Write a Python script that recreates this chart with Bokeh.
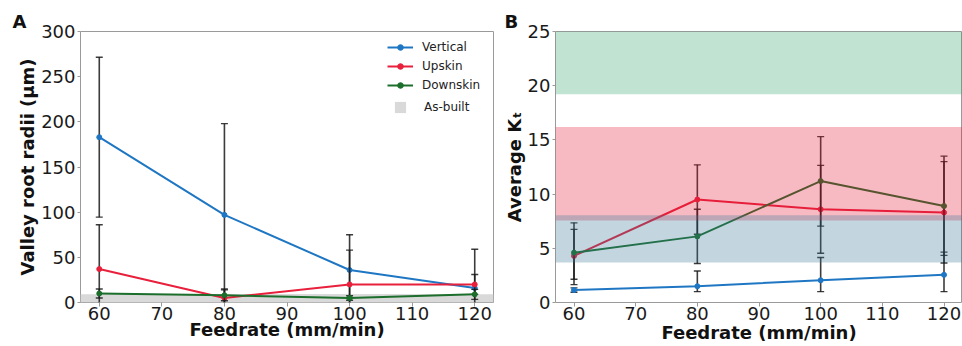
from bokeh.plotting import figure
from bokeh.models import Range1d, BoxAnnotation, Legend, LegendItem, FixedTicker
from bokeh.layouts import row
from bokeh.embed import file_html
from bokeh.resources import INLINE

# ---------------- data ----------------
feedrate = [60, 80, 100, 120]
x_ticks = [60, 70, 80, 90, 100, 110, 120]
x_label = "Feedrate (mm/min)"

# Panel A: valley root radii (um)
radii_vertical = [183, 97, 36, 16]
radii_vertical_err = [88.5, 101, 39, 43]
radii_upskin = [37, 5, 20, 20]
radii_upskin_err = [49, 10, 38, 11]
radii_downskin = [10, 8, 5, 9]
radii_downskin_err = [5, 6, 2.5, 5.5]
as_built_band = [0, 9]
radii_ticks = [0, 50, 100, 150, 200, 250, 300]

# Panel B: average Kt
kt_vertical = [1.15, 1.5, 2.05, 2.55]
kt_vertical_lo = [0.95, 1.0, 1.0, 1.0]
kt_vertical_hi = [1.35, 2.9, 4.15, 4.65]
kt_upskin = [4.3, 9.5, 8.6, 8.3]
kt_upskin_lo = [1.65, 6.3, 4.55, 3.65]
kt_upskin_hi = [7.35, 12.7, 12.65, 13.0]
kt_downskin = [4.6, 6.1, 11.2, 8.9]
kt_downskin_lo = [2.15, 3.6, 7.05, 4.35]
kt_downskin_hi = [6.75, 8.6, 15.3, 13.5]
kt_ticks = [0, 5, 10, 15, 20, 25]
band_downskin = [19.2, 25]
band_upskin = [7.57, 16.2]
band_vertical = [3.7, 8.05]

C_V = "#1f77c4"
C_U = "#e8203c"
C_D = "#1b6e2b"
ERR = "#1a1a1a"
GRAY = "#9a9a9a"


def style(p, yticks, xlabel_standoff):
    p.outline_line_color = GRAY
    p.outline_line_width = 1
    p.xgrid.visible = False
    p.ygrid.visible = False
    p.xaxis.ticker = FixedTicker(ticks=x_ticks)
    p.yaxis.ticker = FixedTicker(ticks=yticks)
    for ax in (p.xaxis[0], p.yaxis[0]):
        ax.axis_line_color = None
        ax.major_tick_line_color = GRAY
        ax.major_tick_out = 4
        ax.major_tick_in = 0
        ax.minor_tick_line_color = None
        ax.major_label_text_font = "DejaVu Sans"
        ax.major_label_text_font_size = "18px"
        ax.major_label_text_color = "#1a1a1a"
        ax.axis_label_text_font = "DejaVu Sans"
        ax.axis_label_text_font_size = "18px"
        ax.axis_label_text_font_style = "bold"
        ax.axis_label_text_color = "#111111"
    p.xaxis.axis_label = x_label
    p.xaxis.major_label_standoff = 0
    p.xaxis.axis_label_standoff = xlabel_standoff
    p.yaxis.major_tick_out = 3
    p.yaxis.major_label_standoff = 2
    p.yaxis.axis_label_standoff = 0
    p.title.text_font = "DejaVu Sans"
    p.title.text_font_size = "18px"
    p.title.text_font_style = "bold"
    p.title.text_color = "#111111"
    p.title.align = "left"
    p.title.standoff = 0


def errbars(p, x, lo, hi):
    p.segment(x0=x, y0=lo, x1=x, y1=hi, line_color=ERR, line_width=1.6, line_alpha=0.85)
    p.scatter(x=x, y=lo, marker="dash", size=7, line_color=ERR, line_width=1.4, line_alpha=0.85)
    p.scatter(x=x, y=hi, marker="dash", size=7, line_color=ERR, line_width=1.4, line_alpha=0.85)


# ---------------- panel A ----------------
pA = figure(width=500, height=346, output_backend="svg", toolbar_location=None,
            x_range=Range1d(57, 123), y_range=Range1d(0, 300),
            min_border_left=80, min_border_right=7, min_border_top=31, min_border_bottom=41,
            title="A")
style(pA, radii_ticks, -4)
pA.title.offset = -68
pA.yaxis.axis_label = "Valley root radii (µm)"

pA.add_layout(BoxAnnotation(bottom=as_built_band[0], top=as_built_band[1], fill_color="#d9d9d9",
                            fill_alpha=1.0, line_color=None, level="underlay"))
asb = pA.quad(left=[feedrate[0]], right=[feedrate[-1]], bottom=[as_built_band[0]],
              top=[as_built_band[1]], fill_color="#d9d9d9", line_color=None, level="underlay")

items = []
for ys, err, col, name in [(radii_vertical, radii_vertical_err, C_V, "Vertical"),
                           (radii_upskin, radii_upskin_err, C_U, "Upskin"),
                           (radii_downskin, radii_downskin_err, C_D, "Downskin")]:
    lo = [y - e for y, e in zip(ys, err)]
    hi = [y + e for y, e in zip(ys, err)]
    errbars(pA, feedrate, lo, hi)
    r1 = pA.line(feedrate, ys, line_color=col, line_width=2)
    r2 = pA.scatter(feedrate, ys, size=5, fill_color=col, line_color=col)
    items.append(LegendItem(label=name, renderers=[r1, r2]))

leg1 = Legend(items=items, location=(307, 210), padding=0, margin=0, spacing=5,
              glyph_width=26, glyph_height=14, label_height=14, label_standoff=9,
              label_text_font="DejaVu Sans", label_text_font_size="12px",
              label_text_color="#222222", border_line_color=None, background_fill_alpha=0)
leg2 = Legend(items=[LegendItem(label="As-built", renderers=[asb])], location=(313, 188),
              padding=0, margin=0, glyph_width=14, glyph_height=14, label_height=14,
              label_standoff=17, label_text_font="DejaVu Sans", label_text_font_size="12px",
              label_text_color="#222222", border_line_color=None, background_fill_alpha=0)
pA.add_layout(leg1)
pA.add_layout(leg2)

# ---------------- panel B ----------------
pB = figure(width=462, height=346, output_backend="svg", toolbar_location=None,
            x_range=Range1d(57, 123), y_range=Range1d(0, 25),
            min_border_left=54, min_border_right=0, min_border_top=29, min_border_bottom=44,
            title="B")
style(pB, kt_ticks, -1)
pB.title.offset = -51
pB.yaxis.axis_label = "Average Kₜ"

for ys, lo, hi, col in [(kt_vertical, kt_vertical_lo, kt_vertical_hi, C_V),
                        (kt_upskin, kt_upskin_lo, kt_upskin_hi, C_U),
                        (kt_downskin, kt_downskin_lo, kt_downskin_hi, C_D)]:
    errbars(pB, feedrate, lo, hi)
    pB.line(feedrate, ys, line_color=col, line_width=2)
    pB.scatter(feedrate, ys, size=5, fill_color=col, line_color=col)

for band, col in [(band_downskin, "#30a269"), (band_upskin, "#e41a38"), (band_vertical, "#377694")]:
    pB.add_layout(BoxAnnotation(bottom=band[0], top=band[1], fill_color=col, fill_alpha=0.3,
                                line_color=None, level="overlay"))

layout = row(pA, pB)
open("out.html", "w").write(file_html(layout, INLINE))
